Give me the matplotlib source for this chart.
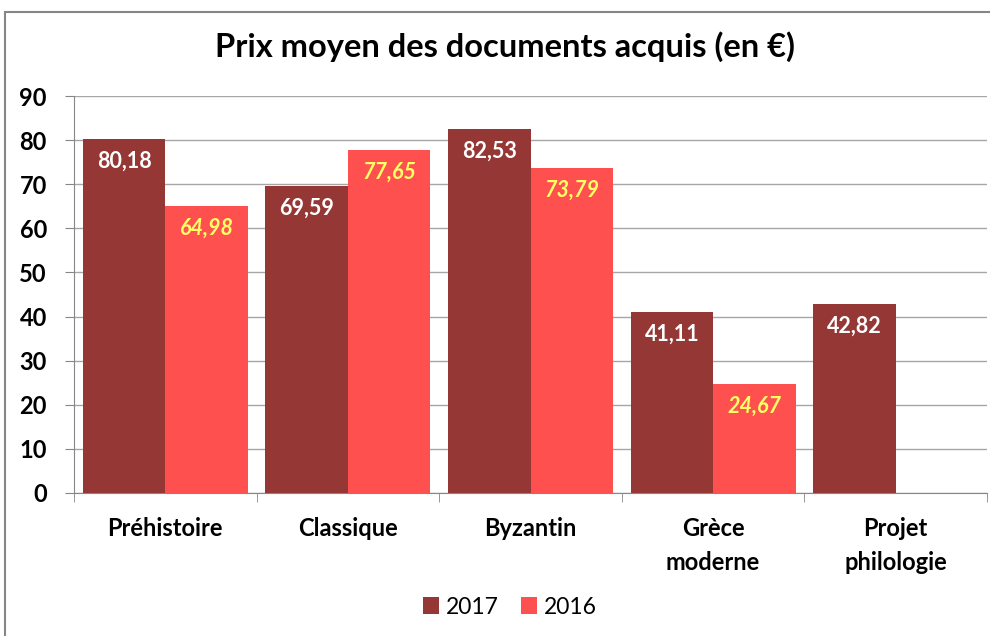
import numpy as np
import matplotlib.pyplot as plt
from matplotlib.patches import Rectangle

plt.rcParams['font.family'] = ['Lato', 'DejaVu Sans']

# data
categories = ['Préhistoire', 'Classique', 'Byzantin', 'Grèce\nmoderne', 'Projet\nphilologie']
v2017 = [80.18, 69.59, 82.53, 41.11, 42.82]
v2016 = [64.98, 77.65, 73.79, 24.67, np.nan]
labels2017 = ['80,18', '69,59', '82,53', '41,11', '42,82']
labels2016 = ['64,98', '77,65', '73,79', '24,67', '']

c2017 = '#953735'
c2016 = '#FF5050'
w = 0.452

fig = plt.figure(figsize=(9.9, 6.36), dpi=100)
ax = fig.add_axes([74/990, 1 - 493/636, 913/990, 397/636])

x = np.arange(len(categories))
b1 = ax.bar(x - w/2, v2017, w, color=c2017, label='2017', zorder=3)
b2 = ax.bar(x + w/2, v2016, w, color=c2016, label='2016', zorder=3)

for xi, v, t in zip(x, v2017, labels2017):
    ax.annotate(t, (xi - w/2, v), xytext=(0, -16), textcoords='offset points',
                ha='center', va='center', color='white', fontsize=15.5, fontweight='bold')
for xi, v, t in zip(x, v2016, labels2016):
    if t:
        ax.annotate(t, (xi + w/2, v), xytext=(0, -16), textcoords='offset points',
                    ha='center', va='center', color='#FFFF66', fontsize=15.5,
                    fontweight='bold', fontstyle='italic')

ax.set_xlim(-0.5, len(categories) - 0.5)
ax.set_ylim(0, 90)
ax.set_yticks(np.arange(0, 91, 10))
ax.yaxis.grid(True, color='#A6A6A6', linewidth=1, zorder=0)
ax.set_axisbelow(True)

ax.set_xticks(x)
ax.set_xticklabels(categories, fontsize=17, fontweight='bold', linespacing=1.6, va='top')
ax.tick_params(axis='x', which='major', length=0, pad=17)
ax.set_xticks(np.arange(-0.5, len(categories)), minor=True)
ax.tick_params(axis='x', which='minor', length=6.5, color='#868686')
ax.tick_params(axis='y', length=6.5, color='#868686', pad=13, labelsize=17)
for lab in ax.get_yticklabels():
    lab.set_fontweight('bold')

for s in ['top', 'right']:
    ax.spines[s].set_visible(False)
for s in ['left', 'bottom']:
    ax.spines[s].set_color('#868686')

fig.text(0.51, 1 - 47/636, 'Prix moyen des documents acquis (en €)', ha='center', va='center',
         fontsize=23.5, fontweight='bold')

fig.legend(handles=[b1, b2], loc='center', bbox_to_anchor=(0.515, 1 - 607/636), ncol=2,
           frameon=False, fontsize=16.5, handlelength=0.7, handleheight=0.7,
           handletextpad=0.3, columnspacing=1.0)

fig.add_artist(Rectangle((5/990, -0.05), 1.1, 1 - 12/636 + 0.05, transform=fig.transFigure,
                         fill=False, edgecolor='#868686', linewidth=1.5, clip_on=False))

fig.savefig('out.png', dpi=100)
